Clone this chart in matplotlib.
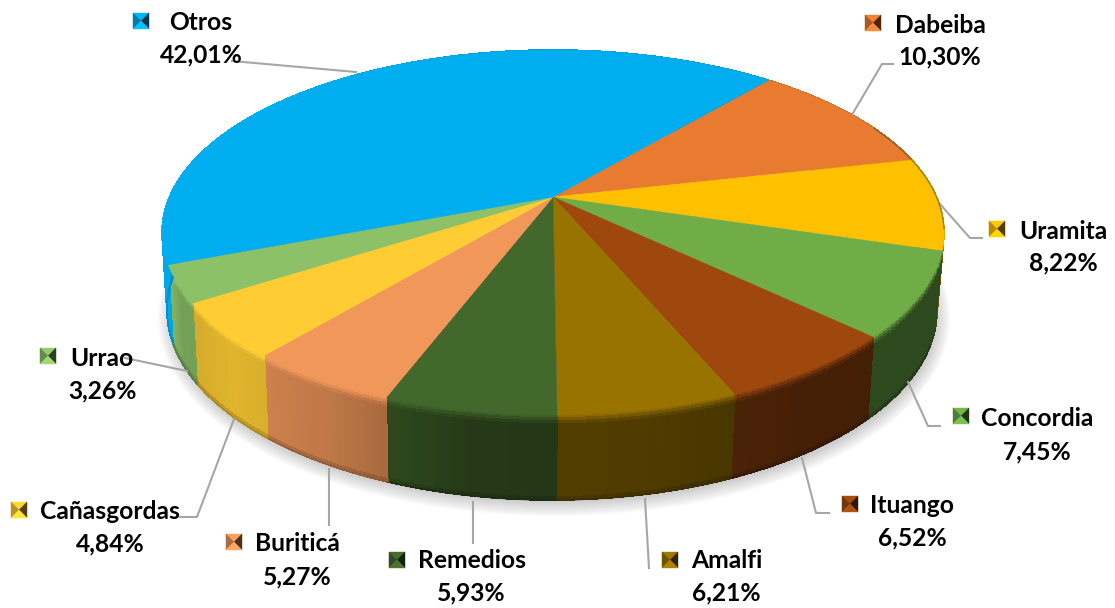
import numpy as np
from matplotlib import pyplot as plt
from matplotlib.collections import PolyCollection
from matplotlib.colors import to_rgb
from matplotlib.patches import Ellipse, Polygon

categories = ['Dabeiba', 'Uramita', 'Concordia', 'Ituango', 'Amalfi',
              'Remedios', 'Buriticá', 'Cañasgordas', 'Urrao', 'Otros']
values = [10.30, 8.22, 7.45, 6.52, 6.21, 5.93, 5.27, 4.84, 3.26, 42.01]
pct_labels = ['10,30%', '8,22%', '7,45%', '6,52%', '6,21%',
              '5,93%', '5,27%', '4,84%', '3,26%', '42,01%']
colors = ['#E97B30', '#FFC000', '#70AD47', '#9E480E', '#997300',
          '#43682B', '#F1975A', '#FFCD33', '#8CC168', '#00AEEF']

# label layout in pixels: marker x,y  name x,y  pct x,y (text y is the middle, baseline is +8)
label_pos = [(873, 23, 940, 25, 940, 56),
             (997, 229, 1063, 231, 1063, 262),
             (961, 416, 1037, 418, 1037, 451),
             (850, 504, 912, 505, 912, 537),
             (670, 560, 727, 560, 726, 592),
             (397, 560, 472, 560, 471, 592),
             (234, 542, 297, 543, 297, 576),
             (19, 510, 110, 511, 110, 543),
             (48, 356, 102, 358, 102, 390),
             (141, 21, 201, 22, 201, 54)]
leaders = [[(893, 64), (882, 64), (853, 113)],
           [(940, 204), (970, 238), (982, 238)],
           [(908, 382), (928, 426), (940, 426)],
           [(802, 458), (816, 513), (829, 513)],
           [(645, 499), (649, 568)],
           [(473, 502), (473, 543)],
           [(329, 469), (329, 525)],
           [(234, 419), (197, 517), (180, 517)],
           [(187, 371), (125, 358)],
           [(232, 61), (356, 72)]]

START = 40.2  # degrees clockwise from the top of the pie
CX, CY = 553, 197
P, K, R = 0.1945, 175.6, 383.5


def top_xy(theta):
    t = np.radians(theta)
    u, v = np.sin(t), -np.cos(t)
    d = 1 - P * v
    return CX + R * u / d, CY + K * v / d


def bottom_xy(theta):
    x, y = top_xy(theta)
    return 552 + (x - CX) / 391 * 385, 310 + (y - 232) / 183 * 190


def side_shade(x):
    return np.interp(x, [165, 180, 230, 330, 470, 640, 800, 890, 940],
                     [0.97, 0.82, 0.88, 0.79, 0.55, 0.52, 0.44, 0.42, 0.42])


def side_color(col, x, t):
    col = np.array(to_rgb(col))
    m = side_shade(x)
    hi = np.clip(col * (0.6 + 0.5 * m), 0, 1)
    low = col * m
    if t < 0.03:
        c = col + (hi - col) * t / 0.03
    elif t < 0.11:
        c = hi + (low - hi) * (t - 0.03) / 0.08
    else:
        c = low
    if t > 0.96:
        c = c * (1 - (t - 0.96) * 6)
    return c


fig = plt.figure(figsize=(11.15, 6.08), dpi=100)
ax = fig.add_axes([0, 0, 1, 1])
ax.set_xlim(0, 1115)
ax.set_ylim(608, 0)
ax.axis('off')

# soft shadow under the pie
for i in range(14):
    ax.add_patch(Ellipse((554, 318), 2 * (396 - i * 1.6), 2 * (198 - i * 1.6),
                         fc='#555555', ec='none', alpha=0.03, zorder=1))

edges = START + np.concatenate([[0], np.cumsum(values)]) / sum(values) * 360
levels = np.linspace(0, 1, 29)

# side wall
quads, quad_cols = [], []
for i, col in enumerate(colors):
    th = np.linspace(edges[i], edges[i + 1], max(int(edges[i + 1] - edges[i]), 2) + 1)
    for a, b in zip(th[:-1], th[1:]):
        xa0, ya0 = top_xy(a)
        xb0, yb0 = top_xy(b)
        xa1, ya1 = bottom_xy(a)
        xb1, yb1 = bottom_xy(b)
        for t0, t1 in zip(levels[:-1], levels[1:]):
            quads.append([(xa0 + (xa1 - xa0) * t0, ya0 + (ya1 - ya0) * t0),
                          (xb0 + (xb1 - xb0) * t0, yb0 + (yb1 - yb0) * t0),
                          (xb0 + (xb1 - xb0) * t1, yb0 + (yb1 - yb0) * t1),
                          (xa0 + (xa1 - xa0) * t1, ya0 + (ya1 - ya0) * t1)])
            quad_cols.append(side_color(col, (xa0 + xb0) / 2, (t0 + t1) / 2))
ax.add_collection(PolyCollection(quads, facecolors=quad_cols, edgecolors=quad_cols,
                                 linewidths=0.5, antialiaseds=False, zorder=2))

# smooth the bottom edge of the wall
for i, col in enumerate(colors):
    th = np.linspace(edges[i], edges[i + 1], 60)
    x, y = bottom_xy(th)
    front = y > 345
    if front.sum() > 1:
        mid = x[front].mean()
        ax.plot(x[front], y[front], color=side_color(col, mid, 1.0), lw=1.0, zorder=2.2)

# top face
for i, col in enumerate(colors):
    th = np.linspace(edges[i], edges[i + 1], 120)
    x, y = top_xy(th)
    pts = np.column_stack([np.r_[CX, x], np.r_[CY, y]])
    ax.add_patch(Polygon(pts, closed=True, fc=col, ec=col, lw=0.3, zorder=3))

# dark rim on the upper right edge
th = np.linspace(65, 100, 60)
x, y = top_xy(th)
ax.plot(x, y, color='#5a4a10', lw=1.2, alpha=0.45, zorder=4)

for i, name in enumerate(categories):
    mx, my, nx, ny, px, py = label_pos[i]
    c = np.array(to_rgb(colors[i]))
    s = 8
    tl, tr, br, bl = (mx - s, my - s), (mx + s, my - s), (mx + s, my + s), (mx - s, my + s)
    mid = (mx, my)
    for tri, f in [([tl, tr, mid], 1.05), ([tl, bl, mid], 0.72),
                   ([tr, br, mid], 0.32), ([bl, br, mid], 1.12)]:
        fc = np.clip(c * f, 0, 1)
        ax.add_patch(Polygon(tri, fc=fc, ec=fc, lw=0.3, zorder=5))
    ax.text(nx, ny + 8, name, family='Lato', weight='bold', fontsize=17.7, color='black',
            ha='center', va='baseline', zorder=6)
    ax.text(px, py + 8, pct_labels[i], family='Lato', weight='bold', fontsize=17.7, color='black',
            ha='center', va='baseline', zorder=6)
    xs, ys = zip(*leaders[i])
    ax.plot(xs, ys, color='#A6A6A6', lw=1.5, zorder=2.5)

fig.savefig('out.png', dpi=100)
